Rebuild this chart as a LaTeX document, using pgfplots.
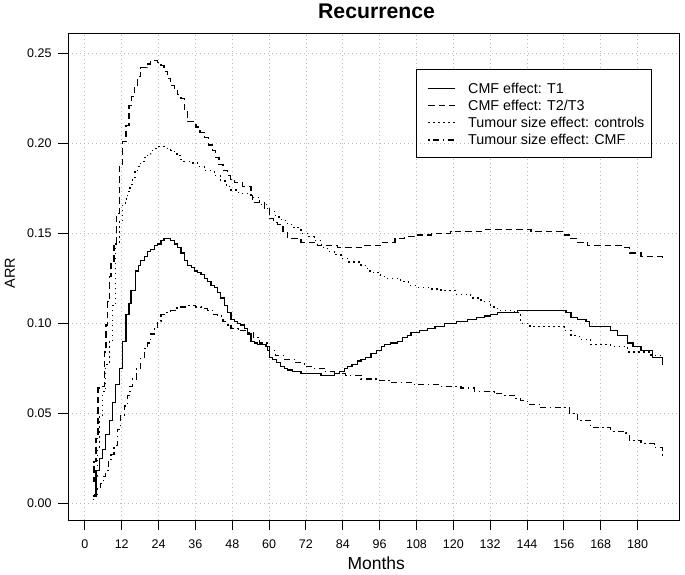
\documentclass[border=0pt]{standalone}
\usepackage{pgfplots}
\pgfplotsset{compat=1.18}
\usepackage{fontspec}
\setmainfont{Liberation Sans}

\pgfplotstableread{
x y
2.5 0.004
3.6 0.018
4.7 0.025
5.8 0.030
6.8 0.038
7.9 0.046
9.0 0.056
10.1 0.066
11.2 0.075
12.3 0.090
13.4 0.105
14.4 0.111
15.0 0.118
16.6 0.129
17.5 0.132
18.2 0.135
19.3 0.137
20.4 0.140
21.5 0.141
22.6 0.143
23.7 0.144
24.8 0.146
25.8 0.147
28.0 0.146
29.1 0.144
30.2 0.142
31.3 0.139
32.4 0.135
33.5 0.132
34.6 0.131
35.6 0.129
36.7 0.128
37.8 0.127
38.9 0.125
40.0 0.123
41.1 0.121
42.1 0.120
43.2 0.117
44.3 0.114
45.4 0.110
46.5 0.106
47.6 0.102
48.6 0.101
49.7 0.100
50.8 0.099
51.9 0.097
53.0 0.094
54.1 0.090
55.2 0.089
56.3 0.088
59.0 0.087
60.0 0.081
61.0 0.080
62.5 0.078
63.8 0.076
65.0 0.075
66.0 0.074
67.6 0.073
70.4 0.072
76.9 0.071
81.2 0.072
83.0 0.073
84.5 0.075
85.6 0.076
87.0 0.077
88.8 0.079
89.9 0.080
91.5 0.081
93.2 0.083
95.0 0.085
96.5 0.087
97.5 0.088
99.5 0.089
101.9 0.090
103.5 0.092
105.0 0.093
106.2 0.095
109.0 0.096
111.6 0.097
114.0 0.098
117.0 0.100
121.0 0.101
124.7 0.102
127.5 0.103
130.1 0.104
132.0 0.105
134.4 0.106
137.5 0.106
141.0 0.107
146.4 0.107
156.7 0.106
158.3 0.103
160.5 0.102
163.2 0.101
164.3 0.098
171.3 0.096
173.5 0.093
176.8 0.089
178.5 0.087
181.1 0.085
184.9 0.081
188.2 0.077
}\tone

\pgfplotstableread{
x y
2.5 0.012
3.0 0.023
3.6 0.036
4.3 0.064
5.8 0.065
6.3 0.084
6.9 0.099
7.4 0.112
8.0 0.126
8.5 0.133
9.5 0.143
10.3 0.161
11.2 0.188
12.3 0.201
13.4 0.210
14.4 0.221
15.3 0.226
16.1 0.231
17.2 0.237
18.2 0.242
20.2 0.244
21.5 0.246
22.6 0.246
23.7 0.245
24.8 0.243
25.8 0.240
26.9 0.236
28.0 0.232
29.1 0.230
30.2 0.227
31.3 0.225
32.4 0.218
33.5 0.212
36.2 0.209
37.5 0.206
38.9 0.203
40.2 0.199
41.6 0.196
42.6 0.192
43.7 0.188
45.0 0.185
46.5 0.182
47.5 0.180
48.6 0.178
51.4 0.176
54.1 0.171
54.6 0.167
58.4 0.164
60.0 0.158
61.5 0.156
62.8 0.155
64.5 0.151
66.0 0.147
70.4 0.145
75.8 0.143
82.4 0.142
90.0 0.143
92.1 0.143
96.4 0.145
101.0 0.147
104.0 0.148
107.3 0.149
113.0 0.150
119.2 0.151
130.0 0.152
139.8 0.152
145.3 0.151
156.1 0.149
158.3 0.147
160.5 0.145
163.7 0.143
175.7 0.142
177.3 0.139
181.1 0.137
188.2 0.135
}\ttwo

\pgfplotstableread{
x y
2.5 0.004
3.6 0.015
4.2 0.031
4.7 0.049
5.8 0.062
6.8 0.077
7.9 0.090
9.0 0.110
10.1 0.144
11.2 0.157
12.3 0.166
13.1 0.169
13.9 0.173
14.7 0.177
15.5 0.181
16.3 0.184
17.2 0.187
18.2 0.190
19.3 0.192
20.4 0.194
21.5 0.196
22.6 0.197
23.7 0.198
24.8 0.198
26.9 0.197
28.0 0.196
29.1 0.194
30.2 0.193
31.3 0.191
32.3 0.190
34.5 0.189
36.7 0.187
39.0 0.185
42.1 0.182
44.3 0.179
46.0 0.176
47.6 0.174
50.0 0.172
54.1 0.170
57.0 0.166
59.5 0.162
62.0 0.159
64.0 0.157
66.0 0.155
68.0 0.153
70.4 0.150
72.5 0.148
74.7 0.146
77.0 0.142
79.0 0.140
81.2 0.138
83.4 0.136
85.6 0.134
89.9 0.132
92.0 0.129
94.0 0.128
96.4 0.126
98.5 0.125
102.9 0.123
105.5 0.121
108.4 0.120
112.0 0.119
116.0 0.118
121.0 0.116
125.7 0.114
129.0 0.112
132.2 0.109
134.4 0.107
139.8 0.106
142.0 0.100
145.0 0.098
148.5 0.098
156.1 0.096
158.3 0.093
161.0 0.091
164.8 0.088
171.3 0.087
176.8 0.084
184.4 0.082
188.2 0.081
}\tcontrols

\pgfplotstableread{
x y
2.5 0.002
3.3 0.005
4.1 0.008
5.0 0.011
6.0 0.015
6.8 0.018
7.6 0.023
8.5 0.027
9.5 0.032
10.5 0.041
11.7 0.049
12.8 0.054
13.9 0.060
14.7 0.065
15.5 0.069
16.8 0.075
18.2 0.081
19.5 0.086
20.5 0.089
21.5 0.094
22.6 0.097
23.7 0.101
24.8 0.105
26.0 0.106
28.0 0.107
30.0 0.109
33.5 0.110
36.0 0.109
37.8 0.108
40.0 0.107
42.0 0.105
43.2 0.104
45.0 0.101
46.5 0.099
47.6 0.097
50.0 0.096
53.0 0.095
55.0 0.092
57.0 0.089
59.5 0.085
62.0 0.082
65.0 0.080
68.2 0.078
71.5 0.076
74.7 0.075
78.0 0.073
81.2 0.072
85.0 0.071
89.9 0.069
92.1 0.069
96.0 0.068
100.0 0.067
107.3 0.066
115.0 0.065
122.5 0.064
126.8 0.062
133.3 0.061
136.5 0.060
139.8 0.058
142.0 0.057
144.2 0.055
148.5 0.053
156.1 0.053
157.8 0.050
160.5 0.046
164.8 0.042
171.3 0.040
176.2 0.039
177.3 0.035
181.1 0.033
185.4 0.031
188.2 0.026
}\tcmf

\tikzset{
  ser1/.style={black, line width=1.2bp},
  ser2/.style={black, line width=1.2bp, dash pattern=on 6.5bp off 4bp},
  ser3/.style={black, line width=1.2bp, dash pattern=on 1.5bp off 3.5bp},
  ser4/.style={black, line width=1.2bp, dash pattern=on 1.5bp off 3.5bp on 6bp off 3.5bp},
  gridl/.style={gray!55, line width=0.8bp, dash pattern=on 1bp off 3bp},
  legtxt/.style={anchor=base west, inner sep=0pt, font=\fontsize{14.3bp}{17bp}\selectfont},
}

\begin{document}
\begin{tikzpicture}
\path[use as bounding box] (-68.3bp,-55bp) rectangle (616.7bp,520bp);
\begin{axis}[
  name=ax, at={(0,0)}, anchor=south west,
  width=610.7bp, height=486bp, scale only axis,
  xmin=-5.4, xmax=193.5, ymin=-0.0093, ymax=0.2607,
  xtick={0,12,...,180},
  xticklabels={0,12,24,36,48,60,72,84,96,108,120,132,144,156,168,180},
  ytick={0,0.05,0.1,0.15,0.2,0.25},
  yticklabels={0.00,0.05,0.10,0.15,0.20,0.25},
  xtick pos=lower, ytick pos=left,
  tick align=outside, major tick length=10bp,
  tick style={black, line width=1bp},
  axis line style={line width=1bp},
  grid=major,
  major grid style={gridl},
  xticklabel style={anchor=north, inner sep=0pt, text height=9bp, text depth=0pt, yshift=-9bp, font=\fontsize{12.5bp}{14bp}\selectfont},
  yticklabel style={anchor=east, inner sep=0pt, xshift=-6.6bp, font=\fontsize{12.5bp}{14bp}\selectfont},
  every axis title shift=0pt,
  title={Recurrence},
  title style={at={(axis description cs:0.5047,1.0323)}, anchor=base, font=\bfseries\fontsize{21.2bp}{24bp}\selectfont},
  xlabel={Months},
  xlabel style={at={(axis description cs:0.5043,-0.1014)}, anchor=base, font=\fontsize{17.5bp}{20bp}\selectfont},
  ylabel={ARR},
  ylabel style={at={(axis description cs:-0.0873,0.5076)}, anchor=base, font=\fontsize{14.5bp}{17bp}\selectfont},
]
\addplot[const plot, ser1] table {\tone};
\addplot[const plot, ser2] table {\ttwo};
\addplot[const plot, ser3] table {\tcontrols};
\addplot[const plot, ser4] table {\tcmf};
\end{axis}
% legend
\fill[white] (347.7bp,362.7bp) rectangle (582.7bp,450bp);
\draw[gridl] (347.7bp,376.7bp) -- (582.7bp,376.7bp);
\draw[black, line width=1bp] (347.7bp,362.7bp) rectangle (582.7bp,450bp);
\draw[ser1] (359.7bp,431.5bp) -- (386.7bp,431.5bp);
\draw[ser2] (359.7bp,414.3bp) -- (386.7bp,414.3bp);
\draw[ser3] (359.7bp,397.1bp) -- (386.7bp,397.1bp);
\draw[ser4] (359.7bp,380.0bp) -- (386.7bp,380.0bp);
\node[legtxt] at (399.7bp,426.5bp) {CMF effect: T1};
\node[legtxt] at (399.7bp,409.3bp) {CMF effect: T2/T3};
\node[legtxt] at (399.7bp,392.1bp) {Tumour size effect: controls};
\node[legtxt] at (399.7bp,375.0bp) {Tumour size effect: CMF};
\end{tikzpicture}
\end{document}
